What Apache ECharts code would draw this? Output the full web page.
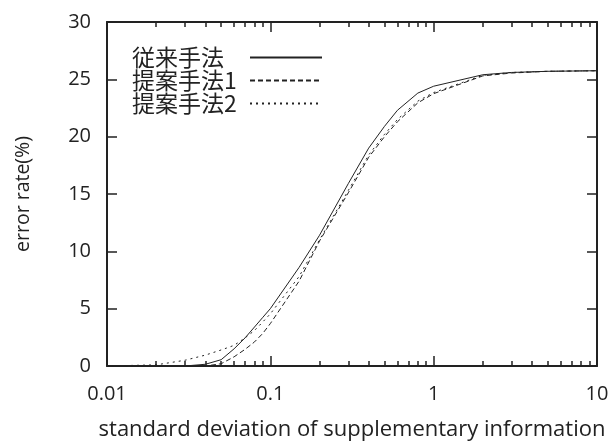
<!DOCTYPE html>
<html>
<head>
<meta charset="utf-8">
<script src="https://cdn.jsdelivr.net/npm/echarts@6/dist/echarts.min.js"></script>
<style>
  html, body { margin: 0; padding: 0; background: #fff; }
  #chart { width: 613px; height: 441px; }
</style>
</head>
<body>
<div id="chart"></div>
<script>
// standard deviation of the supplementary information (x, log scale)
const sigma = [0.01, 0.02, 0.03, 0.04, 0.05, 0.06, 0.07, 0.08, 0.09, 0.1, 0.15, 0.2, 0.3, 0.4, 0.5, 0.6, 0.8, 1, 2, 3, 5, 10];

// error rate (%) per method
const conventional = [0, 0, 0, 0.15, 0.55, 1.5, 2.45, 3.4, 4.25, 5.0, 8.6, 11.4, 15.9, 19.0, 20.9, 22.3, 23.8, 24.4, 25.4, 25.6, 25.7, 25.75];
const proposed1 = [0, 0, 0, 0, 0.2, 0.8, 1.45, 2.1, 2.85, 3.7, 7.4, 10.9, 15.1, 18.2, 20.0, 21.3, 22.95, 23.75, 25.3, 25.55, 25.7, 25.75];
const proposed2 = [0, 0.1, 0.5, 0.95, 1.4, 1.8, 2.45, 3.1, 3.85, 4.55, 7.8, 11.0, 15.3, 18.4, 20.2, 21.5, 23.1, 23.85, 25.35, 25.6, 25.7, 25.75];

const seriesNames = ["従来手法", "提案手法1", "提案手法2"];
const xTickLabels = ["0.01", "0.1", "1", "10"];
const yTicks = { min: 0, max: 30, interval: 5 };
// minor ticks of the log axis: 2..9 in each decade
const minorTickValues = [0.02, 0.03, 0.04, 0.05, 0.06, 0.07, 0.08, 0.09, 0.2, 0.3, 0.4, 0.5, 0.6, 0.7, 0.8, 0.9, 2, 3, 4, 5, 6, 7, 8, 9];

const ink = "#222";
const labelFont = "'Open Sans', 'DejaVu Sans', sans-serif";
const legendFont = "'Noto Sans CJK JP', sans-serif";

// plot box is 344 px tall and 490 px wide; the mirrored top/right axes are
// bottom/left axes pushed across the plot with a negative offset
const plotHeight = 344;
const plotWidth = 490;

function pairs(ys) {
  return sigma.map((x, i) => [x, ys[i]]);
}

function logAxis(mirror) {
  return {
    type: "log",
    logBase: 10,
    position: "bottom",
    offset: mirror ? -plotHeight : 0,
    min: 0.01,
    max: 10,
    axisLine: { show: true, onZero: false, lineStyle: { color: ink, width: 2 } },
    axisTick: { show: true, inside: !mirror, length: 10, lineStyle: { color: ink, width: 1.5 } },
    splitLine: { show: false },
    axisLabel: {
      show: !mirror,
      color: ink,
      fontFamily: labelFont,
      fontSize: 20,
      margin: 18,
      formatter: (v) => xTickLabels[Math.round(Math.log10(v)) + 2],
    },
  };
}

function minorAxis(mirror) {
  return {
    type: "value",
    position: "bottom",
    offset: mirror ? -plotHeight : 0,
    min: -2,
    max: 1,
    axisLine: { show: false, onZero: false },
    axisTick: {
      show: true,
      inside: !mirror,
      length: 5,
      lineStyle: { color: ink, width: 1.5 },
      customValues: minorTickValues.map((v) => Math.log10(v)),
    },
    axisLabel: { show: false },
    splitLine: { show: false },
  };
}

function valueAxis(mirror) {
  return {
    type: "value",
    position: "left",
    offset: mirror ? -plotWidth : 0,
    min: yTicks.min,
    max: yTicks.max,
    interval: yTicks.interval,
    axisLine: { show: true, onZero: false, lineStyle: { color: ink, width: 2 } },
    axisTick: { show: true, inside: !mirror, length: 10, lineStyle: { color: ink, width: 1.5 } },
    splitLine: { show: false },
    axisLabel: {
      show: !mirror,
      color: ink,
      fontFamily: labelFont,
      fontSize: 20,
      margin: 16,
    },
  };
}

const chart = echarts.init(document.getElementById("chart"), null, { renderer: "canvas" });

const xBottom = logAxis(false);
xBottom.name = "standard deviation of supplementary information";
xBottom.nameLocation = "middle";
xBottom.nameGap = 53;
xBottom.nameTextStyle = { color: ink, fontFamily: labelFont, fontSize: 22 };

const yLeft = valueAxis(false);
yLeft.name = "error rate(%)";
yLeft.nameLocation = "middle";
yLeft.nameGap = 74;
yLeft.nameTextStyle = { color: ink, fontFamily: labelFont, fontSize: 19.5 };

chart.setOption({
  animation: false,
  backgroundColor: "#fff",
  grid: { left: 107, right: 16, top: 22, bottom: 75, outerBoundsMode: "none", containLabel: false },
  legend: {
    orient: "vertical",
    left: 127,
    top: 41,
    align: "right",
    itemWidth: 72,
    itemHeight: 10,
    itemGap: 0,
    data: seriesNames,
    itemStyle: { opacity: 0 },
    formatter: (name) => `{t|${name}}`,
    textStyle: {
      color: ink,
      fontFamily: legendFont,
      fontSize: 23,
      rich: {
        t: { width: 113, align: "left", fontFamily: legendFont, fontSize: 23, lineHeight: 24.5, color: ink },
      },
    },
  },
  xAxis: [xBottom, minorAxis(false), logAxis(true), minorAxis(true)],
  yAxis: [yLeft, valueAxis(true)],
  series: [
    {
      name: seriesNames[0],
      type: "line",
      symbol: "none",
      lineStyle: { color: ink, width: 1, type: "solid" },
      itemStyle: { color: ink },
      data: pairs(conventional),
    },
    {
      name: seriesNames[1],
      type: "line",
      symbol: "none",
      lineStyle: { color: ink, width: 1, type: [5, 3] },
      itemStyle: { color: ink },
      data: pairs(proposed1),
    },
    {
      name: seriesNames[2],
      type: "line",
      symbol: "none",
      lineStyle: { color: ink, width: 1, type: [2, 4] },
      itemStyle: { color: ink },
      data: pairs(proposed2),
    },
  ],
});
</script>
</body>
</html>
